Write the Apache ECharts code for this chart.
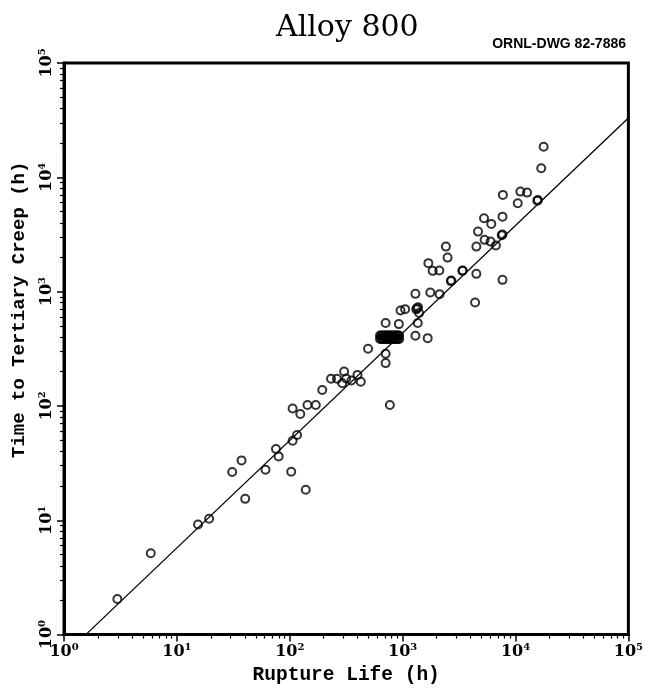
<!DOCTYPE html>
<html><head><meta charset="utf-8">
<script src="https://cdn.jsdelivr.net/npm/echarts@6/dist/echarts.min.js"></script>
<style>html,body{margin:0;padding:0;background:#fff}#c{width:646px;height:690px}</style>
</head><body><div id="c"></div>
<script>
// Rupture life (h) and time to tertiary creep (h) for each specimen
const ruptureLife = [
  2.97, 5.87, 15.4, 19.3, 30.9, 37.4, 40.3, 61, 75.5, 79.7,
  103, 138.6, 106, 116, 106, 124, 143.5, 170, 194, 232,
  262, 303, 292, 316, 352, 398, 426, 494, 771, 707,
  707, 707, 926, 1298, 1667, 958, 1052, 1320, 1370, 1342,
  1400, 1361, 1298, 1758, 2125, 2674, 2700, 3388, 3400, 4500,
  4385, 7670, 1690, 1845, 2113, 2417, 2500, 4500, 4655, 5325,
  6010, 6700, 5260, 6100, 7670, 7670, 7550, 10470, 17750, 16900,
  15800, 15600, 7730, 11050, 12650,
  630, 648, 666, 685, 705, 725, 746, 767, 789, 811, 834, 858, 883, 908, 932,
  630, 648, 666, 685, 705, 725, 746, 767, 789, 811, 834, 858, 883, 908, 932
];
const tertiaryTime = [
  2.05, 5.14, 9.2, 10.3, 26.4, 33.4, 15.4, 27.7, 42, 36.2,
  26.6, 18.5, 49.6, 55.7, 95, 85, 102, 102, 138, 173,
  173, 200, 158, 174, 167, 187, 163, 316, 102, 286,
  237, 531, 520, 411, 392, 684, 703, 700, 730, 717,
  650, 531, 956, 982, 951, 1236, 1250, 1520, 1530, 1431,
  804, 1268, 1775, 1520, 1530, 2477, 1985, 2477, 3350, 2837,
  2740, 2530, 4385, 3915, 4530, 3158, 3120, 5940, 18540, 12000,
  6340, 6250, 7020, 7500, 7350,
  386, 386, 386, 386, 386, 386, 386, 386, 386, 386, 386, 386, 386, 386, 386,
  413, 413, 413, 413, 413, 413, 413, 413, 413, 413, 413, 413, 413, 413, 413
];
// Fitted line end points
const fitLineX = [1.56, 100000];
const fitLineY = [1, 33000];
// Axis decades and exponents
const decadeTicks = [1, 10, 100, 1000, 10000, 100000];
const decadeExponents = ['0', '1', '2', '3', '4', '5'];
const minorMultipliers = [2, 3, 4, 5, 6, 7, 8, 9];

const minorTicks = [];
decadeTicks.slice(0, -1).forEach(d => minorMultipliers.forEach(m => minorTicks.push(d * m)));

const labelFont = '"DejaVu Serif", serif';
const nameFont = '"Liberation Mono", monospace';
function powLabel(v) {
  const i = decadeTicks.findIndex(d => Math.abs(d - v) / d < 1e-6);
  return '{b|10}{s|' + (i >= 0 ? decadeExponents[i] : '') + '}';
}
const rich = {
  b: { fontFamily: labelFont, fontWeight: 'bold', fontSize: 16, color: '#000' },
  s: { fontFamily: labelFont, fontWeight: 'bold', fontSize: 10, color: '#000', padding: [0, 0, 9, 0] }
};

function mainAxis(extra) {
  return Object.assign({
    type: 'log', logBase: 10, min: 1, max: 100000,
    axisLine: { show: true, onZero: false, lineStyle: { color: '#000', width: 3 } },
    axisTick: { show: true, inside: false, length: 7, customValues: decadeTicks, lineStyle: { color: '#000', width: 1.5 } },
    minorTick: { show: false },
    splitLine: { show: false },
    axisLabel: { customValues: decadeTicks, formatter: powLabel, rich: rich, margin: 8 }
  }, extra);
}
function minorAxis(extra) {
  return Object.assign({
    type: 'log', logBase: 10, min: 1, max: 100000, offset: 0,
    axisLine: { show: false },
    axisTick: { show: true, inside: false, length: 4, customValues: minorTicks, lineStyle: { color: '#000', width: 1.2 } },
    minorTick: { show: false },
    splitLine: { show: false },
    axisLabel: { show: false }
  }, extra);
}

const chart = echarts.init(document.getElementById('c'), null, { renderer: 'canvas' });
chart.setOption({
  animation: false,
  backgroundColor: '#fff',
  title: [
    { text: 'Alloy 800', left: 271, top: 8,
      textStyle: { fontFamily: labelFont, fontWeight: 'normal', fontSize: 30, color: '#000' } },
    { text: 'ORNL-DWG 82-7886', right: 15, top: 32,
      textStyle: { fontFamily: '"Liberation Sans", sans-serif', fontWeight: 'bold', fontSize: 14, color: '#000' } }
  ],
  grid: { left: 64, right: 15, top: 63, bottom: 55, show: true, borderColor: '#000', borderWidth: 3, containLabel: false },
  xAxis: [
    mainAxis({ position: 'bottom', name: 'Rupture Life (h)', nameLocation: 'middle', nameGap: 26,
      nameTextStyle: { fontFamily: nameFont, fontWeight: 'bold', fontSize: 19.5, color: '#000' } }),
    minorAxis({ position: 'bottom' })
  ],
  yAxis: [
    mainAxis({ position: 'left', name: 'Time to Tertiary Creep (h)', nameLocation: 'middle', nameGap: 30, nameRotate: 90,
      nameTextStyle: { fontFamily: nameFont, fontWeight: 'bold', fontSize: 19, color: '#000', padding: [0, 0, 0, 78] },
      axisLabel: { customValues: decadeTicks, formatter: powLabel, rich: rich, margin: 8, rotate: 90 } }),
    minorAxis({ position: 'left' })
  ],
  series: [
    { type: 'line', xAxisIndex: 0, yAxisIndex: 0, data: fitLineX.map((x, i) => [x, fitLineY[i]]),
      symbol: 'none', lineStyle: { color: '#000', width: 1.3 }, silent: true, z: 2 },
    { type: 'scatter', xAxisIndex: 0, yAxisIndex: 0, data: ruptureLife.map((x, i) => [x, tertiaryTime[i]]),
      symbol: 'circle', symbolSize: 8,
      itemStyle: { color: 'rgba(0,0,0,0)', borderColor: '#000', borderWidth: 2 }, z: 3 }
  ]
});
</script>
</body></html>
